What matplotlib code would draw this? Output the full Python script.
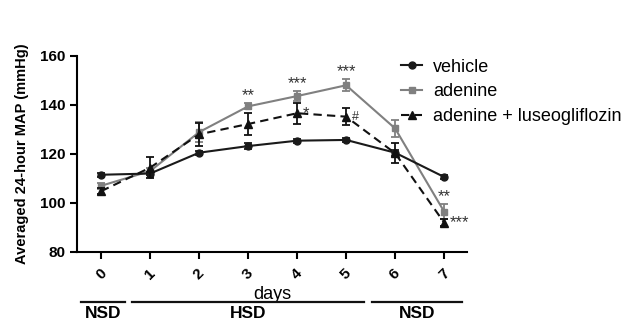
import matplotlib
matplotlib.use("Agg")
import matplotlib.pyplot as plt
from matplotlib.lines import Line2D
from matplotlib.transforms import blended_transform_factory

plt.rcParams['font.family'] = ['Liberation Sans', 'DejaVu Sans']

days = [0, 1, 2, 3, 4, 5, 6, 7]
day_labels = ['0', '1', '2', '3', '4', '5', '6', '7']

vehicle = [111.5, 112.0, 120.5, 123.2, 125.4, 125.7, 120.5, 110.6]
vehicle_err = [0.8, 0.8, 0.8, 1.2, 0.8, 0.8, 1.2, 0.8]

adenine = [107.0, 113.0, 128.9, 139.4, 143.6, 148.0, 130.4, 96.5]
adenine_err = [1.2, 1.2, 4.0, 1.2, 2.2, 2.5, 3.6, 3.0]

luseo = [104.8, 114.4, 128.0, 132.2, 136.6, 135.2, 120.3, 92.0]
luseo_err = [1.2, 4.4, 4.8, 4.5, 4.3, 3.4, 4.0, 1.5]

# significance marks: (day, text, series, side)
sig_marks = [(3, '**', 'adenine', 'top'), (4, '***', 'adenine', 'top'),
             (4, '*', 'luseo', 'right'), (5, '***', 'adenine', 'top'),
             (5, '#', 'luseo', 'right'), (7, '**', 'adenine', 'top'),
             (7, '***', 'luseo', 'right')]

periods = [('NSD', -0.42, 0.49), ('HSD', 0.63, 5.37), ('NSD', 5.53, 7.37)]

fig = plt.figure(figsize=(6.22, 3.21), dpi=100)
ax = fig.add_axes([0.124, 0.215, 0.627, 0.611])

ls_dash = (0, (4, 2.5))
ax.errorbar(days, vehicle, yerr=vehicle_err, color='#1a1a1a', marker='o', ms=5,
            lw=1.5, capsize=3, capthick=1.3, elinewidth=1.3, zorder=3)
ax.errorbar(days, adenine, yerr=adenine_err, color='#808080', marker='s', ms=5,
            lw=1.5, capsize=3, capthick=1.3, elinewidth=1.3, zorder=2)
ax.errorbar(days, luseo, yerr=luseo_err, color='#111111', marker='^', ms=5.5,
            lw=1.5, ls=ls_dash, capsize=3, capthick=1.3, elinewidth=1.3, zorder=4)

data = {'adenine': (adenine, adenine_err), 'luseo': (luseo, luseo_err)}
for d, txt, s, side in sig_marks:
    vals, errs = data[s]
    if side == 'top':
        ax.annotate(txt, xy=(d, vals[d] + errs[d]), xytext=(0, 0), textcoords='offset points',
                    ha='center', va='bottom', fontsize=12, color='#333333')
    else:
        ax.annotate(txt, xy=(d, vals[d]), xytext=(4, 0), textcoords='offset points',
                    ha='left', va='center', fontsize=12 if txt != '#' else 9, color='#333333')

ax.set_xlim(-0.49, 7.47)
ax.set_ylim(80, 160)
ax.set_yticks([80, 100, 120, 140, 160])
ax.set_xticks(days)
ax.set_xticklabels(day_labels, rotation=45, ha='center', fontweight='bold', fontsize=11)
for lab in ax.get_yticklabels():
    lab.set_fontweight('bold')
    lab.set_fontsize(11)
ax.spines['top'].set_visible(False)
ax.spines['right'].set_visible(False)
for sp in ('left', 'bottom'):
    ax.spines[sp].set_linewidth(1.5)
ax.tick_params(axis='both', width=1.5, length=5)
ax.tick_params(axis='x', pad=5)
ax.set_ylabel('Averaged 24-hour MAP (mmHg)', fontweight='bold', fontsize=10.5, labelpad=8)
ax.set_xlabel('days', fontsize=13, labelpad=3)

trans = blended_transform_factory(ax.transData, fig.transFigure)
for name, x0, x1 in periods:
    ax.plot([x0, x1], [1 - 302 / 321, 1 - 302 / 321], transform=trans, color='#111111',
            lw=1.6, clip_on=False)
    ax.text((x0 + x1) / 2, 1 - 313.5 / 321, name, transform=trans, ha='center', va='center',
            fontweight='bold', fontsize=12.5)

handles = [Line2D([], [], color='#1a1a1a', marker='o', ms=5, lw=1.5),
           Line2D([], [], color='#808080', marker='s', ms=5, lw=1.5),
           Line2D([], [], color='#111111', marker='^', ms=5.5, lw=1.5, ls=ls_dash)]
labels = ['vehicle', 'adenine', 'adenine + luseogliflozin']
ax.legend(handles, labels, loc='upper left', bbox_to_anchor=(0.83, 0.985), frameon=False,
          fontsize=13, handlelength=1.2, handletextpad=0.6, labelspacing=0.42,
          borderaxespad=0, borderpad=0)

fig.savefig('out.png', dpi=100)
